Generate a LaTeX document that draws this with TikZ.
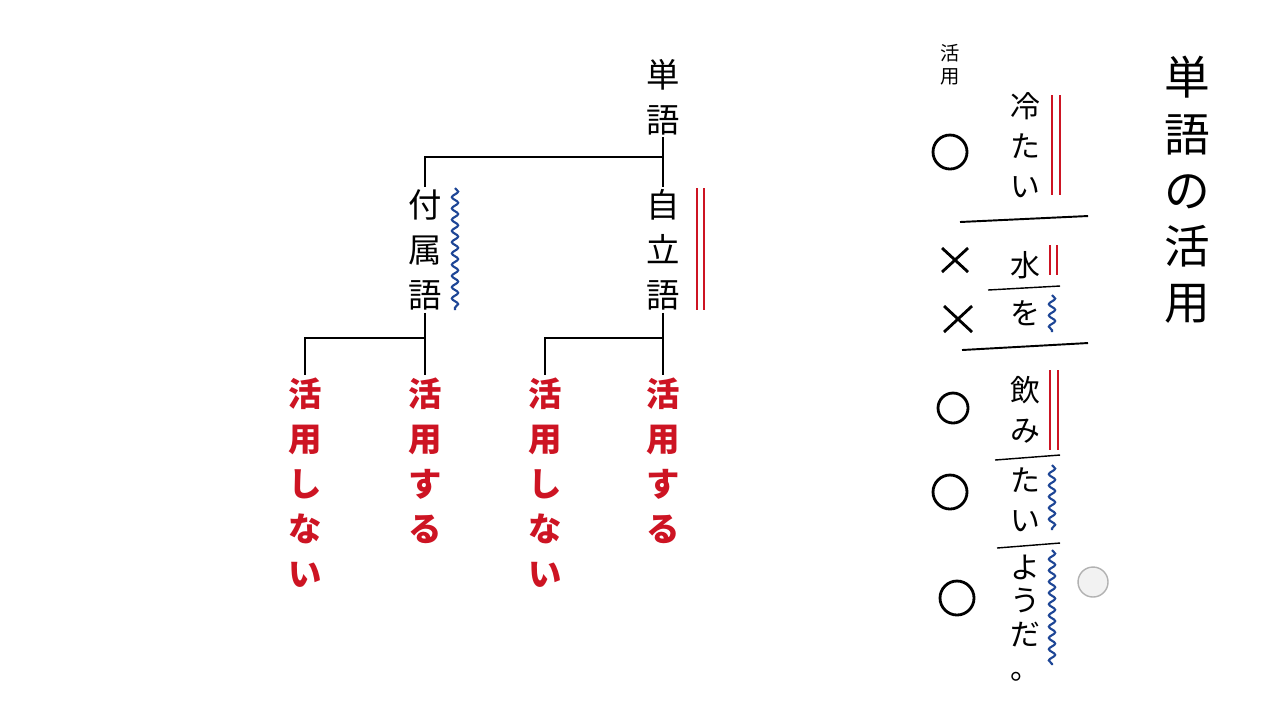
\documentclass[tikz,border=0pt]{standalone}
\usepackage{fontspec}
\setmainfont{Noto Sans CJK JP}
\usetikzlibrary{decorations.pathmorphing}
\definecolor{jred}{RGB}{205,20,35}
\definecolor{jblue}{RGB}{30,70,150}
\tikzset{
  word/.style={align=center, font=\fontsize{9.5}{12.8}\selectfont, inner sep=0.5pt},
  leaf/.style={word, text=jred, font=\bfseries\fontsize{9.5}{12.8}\selectfont},
  note/.style={align=center, font=\fontsize{8.5}{11.4}\selectfont, inner sep=0.5pt},
  branch/.style={line width=0.5pt},
  redline/.style={jred, line width=0.8pt},
  blueline/.style={jblue, line width=0.6pt, decorate, decoration={snake, amplitude=0.9pt, segment length=3.2pt}},
  rule/.style={line width=0.55pt},
  pen/.style={line width=0.8pt}
}
\begin{document}
\begin{tikzpicture}[x=0.01cm, y=-0.01cm]
\useasboundingbox (0,0) rectangle (1280,720);
\fill[white] (0,0) rectangle (1280,720);
% tree
\node[word] (tango) at (663,97) {単\\語};
\node[word] (jiritsu) at (663,250) {自\\立\\語};
\node[word] (fuzoku) at (425,250) {付\\属\\語};
\node[leaf, anchor=north] (l1) at (305,375) {活\\用\\し\\な\\い};
\node[leaf, anchor=north] (l2) at (425,375) {活\\用\\す\\る};
\node[leaf, anchor=north] (l3) at (545,375) {活\\用\\し\\な\\い};
\node[leaf, anchor=north] (l4) at (663,375) {活\\用\\す\\る};
\draw[branch] (tango.south) -- ++(0,20) -| (fuzoku.north);
\draw[branch] (tango.south) -- (jiritsu.north);
\draw[branch] (fuzoku.south) -- (l2.north);
\draw[branch] (fuzoku.south) ++(0,25) -| (l1.north);
\draw[branch] (jiritsu.south) -- (l4.north);
\draw[branch] (jiritsu.south) ++(0,25) -| (l3.north);
\draw[redline] (697,188) -- (697,310) (704,188) -- (704,310);
\draw[blueline] (455,188) -- (455,310);
% notes
\node[word, font=\fontsize{13}{16}\selectfont] (title) at (1187,190) {単\\語\\の\\活\\用};
\node[note, font=\fontsize{5.5}{6.5}\selectfont] (katsu) at (950,65) {活\\用};
\node[note] (w1) at (1025,145) {冷\\た\\い};
\node[note] (w2) at (1025,265) {水};
\node[note] (w3) at (1025,313) {を};
\node[note] (w4) at (1025,410) {飲\\み};
\node[note] (w5) at (1025,500) {た\\い};
\node[note, font=\fontsize{8.5}{9.6}\selectfont] (w6) at (1025,618) {よ\\う\\だ\\。};
\draw[pen] (950,152) circle (17);
\draw[pen] (942,248) -- (968,272) (968,248) -- (942,272);
\draw[pen] (944,306) -- (972,332) (972,306) -- (944,332);
\draw[pen] (953,408) circle (15);
\draw[pen] (950,492) circle (17);
\draw[pen] (957,598) circle (17);
\draw[rule] (960,222) -- (1088,216);
\draw[rule] (962,350) -- (1088,343);
\draw[thin] (988,290) -- (1060,286);
\draw[thin] (995,460) -- (1060,455);
\draw[thin] (997,548) -- (1060,543);
\draw[redline] (1052,95) -- (1052,195) (1060,95) -- (1060,195);
\draw[redline] (1050,245) -- (1050,275) (1057,245) -- (1057,275);
\draw[redline] (1050,370) -- (1050,450) (1058,370) -- (1058,450);
\draw[blueline] (1052,295) -- (1052,332);
\draw[blueline] (1052,465) -- (1052,530);
\draw[blueline] (1052,550) -- (1052,665);
\draw[gray!60, fill=gray!10] (1093,582) circle (15);
\end{tikzpicture}
\end{document}
